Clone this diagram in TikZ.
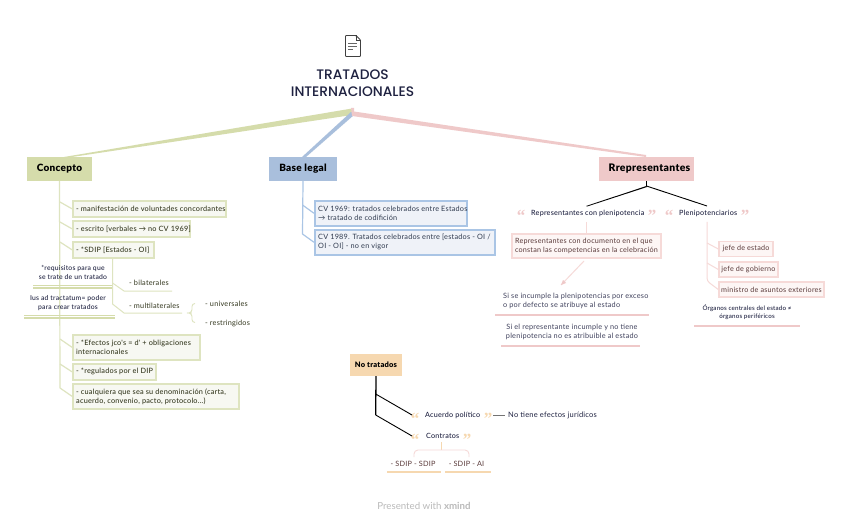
\documentclass[tikz,border=0pt]{standalone}
\usepackage{fontspec}
\setmainfont{Lato}
\newfontfamily\ttlf{Poppins Medium}
\newfontfamily\bodyf[LetterSpace=3]{Lato}
\newfontfamily\headf[LetterSpace=3]{Lato Medium}
\newfontfamily\quotf{Liberation Serif}
\usetikzlibrary{calc}
\definecolor{ink}{HTML}{1E2140}
\definecolor{oliveM}{HTML}{D5DCAB}
\definecolor{oliveL}{HTML}{DEE4C0}
\definecolor{oliveF}{HTML}{F7F8F2}
\definecolor{oliveT}{HTML}{34381F}
\definecolor{blueM}{HTML}{A9BFDC}
\definecolor{blueL}{HTML}{AAC5E5}
\definecolor{blueF}{HTML}{EFF2F8}
\definecolor{blueT}{HTML}{2F3A4E}
\definecolor{pinkM}{HTML}{EFC9C9}
\definecolor{pinkL}{HTML}{F6DAD8}
\definecolor{pinkF}{HTML}{FDF6F5}
\definecolor{pinkT}{HTML}{5A3A3A}
\definecolor{orangeM}{HTML}{F6D8B0}
\tikzset{
 x=1pt,y=-1pt,
 hub/.style={font=\headf\bfseries\fontsize{10}{12}\selectfont,text=black,inner sep=0pt,anchor=center},
 hubbox/.style={fill=#1,inner sep=0pt,path picture={
   \foreach \k in {-60,-48,...,100}
     \draw[white,opacity=.35,line width=.5pt] ([xshift=\k pt]path picture bounding box.south) -- ++(24,24);
 }},
 leaf/.style={draw=#1L,line width=1.6pt,fill=#1F,inner sep=0pt,anchor=north west},
 plain/.style={inner sep=0pt,font=\bodyf\fontsize{7.3}{9}\selectfont,text=ink},
 tiny/.style={inner sep=0pt,font=\headf\fontsize{6.8}{9}\selectfont,text=ink,align=center},
 quot/.style={inner sep=0pt,anchor=base,font=\quotf\bfseries\fontsize{17}{17}\selectfont},
 pleaf/.style={draw=pinkL,line width=1.4pt,fill=pinkF,minimum height=15pt,inner sep=0pt,text=pinkT,font=\bodyf\fontsize{7.2}{9}\selectfont},
 link/.style={line width=1pt,line join=round},
}
\newcommand{\leafbox}[8]{% name colour x y w h text font
 \node[leaf=#2,minimum width=#5pt,minimum height=#6pt] (#1) at (#3,#4) {};
 \node[inner sep=0pt,anchor=west,align=left,text=#2T,font=#8\fontsize{7.3}{9}\selectfont] (#1t) at ($(#1.west)+(4,0)$) {#7};
}
\begin{document}
\begin{tikzpicture}
\useasboundingbox (0,0) rectangle (848,529);
\fill[white] (0,0) rectangle (848,529);
% hub nodes
\node[hubbox=oliveM,minimum width=65pt,minimum height=24pt] (concepto) at (59.5,169) {};
\node[hub] (conceptot) at (concepto.center) {Concepto};
\node[hubbox=blueM,minimum width=68pt,minimum height=24pt] (base) at (303,169) {};
\node[hub] (baset) at (base.center) {Base legal};
\node[hubbox=pinkM,minimum width=95pt,minimum height=24pt] (repr) at (646.5,169) {};
\node[hub,font=\headf\bfseries\fontsize{10.4}{12}\selectfont] (reprt) at ($(repr.center)+(3,0)$) {Rrepresentantes};
\node[hubbox=orangeM,minimum width=52pt,minimum height=22pt] (notr) at (376,365) {};
\node[hub,font=\headf\bfseries\fontsize{7.5}{9}\selectfont] (notrt) at (notr.center) {No tratados};
% root
\node[inner sep=0pt,align=center,font=\ttlf\fontsize{13.8}{17}\selectfont,text=ink] (root) at (352.5,83) {TRATADOS\\INTERNACIONALES};
\coordinate (hubc) at (353,113);
% icon
\draw[line width=.9pt,draw=black!75,rounded corners=.8pt,line join=round] (345.5,35.5) -- (356,35.5) -- (360.5,40) -- (360.5,56.5) -- (345.5,56.5) -- cycle;
\draw[line width=.6pt,draw=black!75] (356,35.5) -- (356,40) -- (360.5,40);
\draw[line width=.7pt,draw=black!60] (348,43.5) -- (357,43.5) (348,46.5) -- (357,46.5) (348,49.5) -- (353,49.5);
% tapered branches
\fill[oliveM] (352,108.5) -- (352,115) -- (72,157) -- (64,157) -- cycle;
\fill[blueM] (351,112) -- (354,115) -- (306,157) -- (302,157) -- cycle;
\fill[pinkM] (351,108) -- (354,108) -- (354,111.5) -- (646,155) -- (646,157) -- (352,116) -- cycle;
% concepto leaves
\leafbox{l1}{olive}{72}{200}{153}{16}{- manifestación de voluntades concordantes}{\headf}
\leafbox{l2}{olive}{72}{220}{117}{16}{- escrito [verbales → no CV 1969]}{\headf}
\leafbox{l3}{olive}{72}{241}{81}{16}{- *SDIP [Estados - OI]}{\headf}
\leafbox{l4}{olive}{72}{334}{127}{25}{- *Efectos jco's = d' + obligaciones\\internacionales}{\headf}
\leafbox{l5}{olive}{72}{363}{83}{16}{- *regulados por el DIP}{\headf}
\leafbox{l6}{olive}{72}{383}{166}{25}{- cualquiera que sea su denominación (carta,\\acuerdo, convenio, pacto, protocolo...)}{\headf}
\draw[oliveL,link,line width=1.2pt] (concepto.south) -- (60,388) -- (l6.west);
\draw[oliveL,link,line width=1.2pt] (60,202) -- (l1.west);
\draw[oliveL,link,line width=1.2pt] (60,222) -- (l2.west);
\draw[oliveL,link,line width=1.2pt] (60,242) -- (l3.west);
\draw[oliveL,link,line width=1.2pt] (60,339) -- (l4.west);
\draw[oliveL,link,line width=1.2pt] (60,364) -- (l5.west);
% requisitos
\node[tiny] (req) at (73,272.5) {*requisitos para que\\se trate de un tratado};
\draw[oliveM,line width=1.4pt] (33,285.2) -- (113,285.2) (33,287.8) -- (113,287.8);
\node[tiny] (ius) at (68,303) {Ius ad tractatum= poder\\para crear tratados};
\draw[oliveM,line width=1.4pt] (24,315.3) -- (115,315.3) (24,317.9) -- (115,317.9);
% bilaterales
\node[plain,anchor=west,text=oliveT] (bil) at (129,283) {- bilaterales};
\node[plain,anchor=west,text=oliveT] (mul) at (129,305.5) {- multilaterales};
\node[plain,anchor=west,text=oliveT] (uni) at (205,303.5) {- universales};
\node[plain,anchor=west,text=oliveT] (res) at (205,323) {- restringidos};
\draw[oliveL,link] (l3.south -| 112.5,0) -- (112.5,304) -- (124,313) -- (182,313);
\draw[oliveL,link] (112.5,283) -- (124,291) -- (172,291);
\draw[oliveL,line width=.9pt,rounded corners=3pt] (195,303.5) -- (192,303.5) -- (192,312.5) -- (188.5,313) -- (192,313.5) -- (192,322.5) -- (195,322.5);
% base leaves
\leafbox{b1}{blue}{314}{200}{152}{25}{CV 1969: tratados celebrados entre Estados\\→ tratado de codifición}{\bodyf}
\leafbox{b2}{blue}{314}{229}{180}{25}{CV 1989. Tratados celebrados entre [estados - OI /\\OI - OI] - no en vigor}{\bodyf}
\draw[blueL,link,line width=1.2pt] (base.south) -- (302.5,234) -- (b2.west);
\draw[blueL,link,line width=1.2pt] (302.5,205) -- (b1.west);
% representantes
\fill[black] (646,181) rectangle (647,186);
\coordinate (rj) at (646.5,186);
\node[plain,anchor=west,font=\headf\fontsize{7.2}{9}\selectfont] (q1) at (531,213.5) {Representantes con plenipotencia};
\node[plain,anchor=west,font=\headf\fontsize{7.2}{9}\selectfont] (q2) at (679,213.5) {Plenipotenciarios};
\fill[black] (rj) -- (647,187) -- (587,206.5) -- (586,206) -- cycle;
\draw[black,line width=.9pt] (rj) -- (707,206);
\foreach \n/\x/\s in {qa/521/“,qb/652/”,qc/669/“,qd/745/”}
  \node[quot,text=pinkM] (\n) at (\x,222) {\s};
\node[draw=pinkL,line width=1.4pt,fill=pinkF,minimum width=149pt,minimum height=24pt,inner sep=0pt] (r1) at (586.5,246) {};
\node[inner sep=0pt,align=left,text=pinkT,font=\bodyf\fontsize{7.2}{9}\selectfont,anchor=west] (r1t) at ($(r1.west)+(3.5,0)$) {Representantes con documento en el que\\constan las competencias en la celebración};
\draw[pinkL,link] (586,222) -- (r1.north -| 586,0);
\coordinate (ar) at (561,285);
\draw[pinkL,line width=1pt] (584,261) -- (ar);
\fill[pinkM] (ar) -- (566,283) -- (563,280) -- cycle;
\node[plain,anchor=west,align=left,text=ink!85] (s1) at (503,300.5) {Si se incumple la plenipotencias por exceso\\o por defecto se atribuye al estado};
\draw[pinkM,line width=1.2pt] (495,315) -- (649,315);
\node[plain,align=center,text=ink!85] (s2) at (572,331.5) {Si el representante incumple y no tiene\\plenipotencia no es atribuible al estado};
\draw[pinkM,line width=1.2pt] (501,346) -- (640,346);
% plenipotenciarios
\node[pleaf,minimum width=54pt] (p1) at (746,249) {jefe de estado};
\node[pleaf,minimum width=59pt] (p2) at (748.5,269.5) {jefe de gobierno};
\node[pleaf,minimum width=105pt] (p3) at (771.5,289.5) {ministro de asuntos exteriores};
\draw[pinkL,link,rounded corners=3pt] (707,222) -- (707,281) -- (p3.west);
\draw[pinkL,link,rounded corners=3pt] (707,243) -- (p1.west);
\draw[pinkL,link,rounded corners=3pt] (707,263) -- (p2.west);
\node[tiny,font=\headf\fontsize{6.2}{8}\selectfont] (org) at (747,312) {Órganos centrales del estado ≠\\órganos periféricos};
\draw[pinkM,line width=1.2pt] (694,326) -- (800,326);
% no tratados
\node[plain,anchor=west,font=\headf\fontsize{7.2}{9}\selectfont] (acu) at (425,415) {Acuerdo político};
\node[plain,anchor=west,font=\headf\fontsize{7.2}{9}\selectfont] (con) at (426,436) {Contratos};
\node[plain,anchor=west,font=\bodyf\fontsize{7.5}{9}\selectfont] (noef) at (508,415) {No tiene efectos jurídicos};
\foreach \n/\x/\y/\s in {qe/415/424/“,qf/488/424/”,qg/415/445/“,qh/467/445/”}
  \node[quot,text=orangeM] (\n) at (\x,\y) {\s};
\draw[black,line width=1.3pt] (notr.south) -- (375.7,415);
\draw[black,line width=.9pt] (375.7,394) -- (412,415);
\draw[black,line width=.9pt] (375.7,415) -- (412,436);
\draw[black!55,line width=.9pt,shorten >=3pt] (493,415) -- (noef.west);
\node[plain,text=pinkT] (sd1) at (413,464) {- SDIP - SDIP};
\node[plain,text=pinkT] (sd2) at (466.5,464) {- SDIP - AI};
\draw[orangeM,line width=.9pt] (441,442) -- (441,450);
\draw[pinkL,line width=.9pt,rounded corners=4pt] (414,457) -- (414,450) -- (469,450) -- (469,457);
\draw[orangeM,line width=1.2pt] (387,472) -- (441,472);
\draw[orangeM,line width=1.2pt] (445,472) -- (491,472);
% footer
\node[inner sep=0pt,text=black!27,font=\fontsize{9.7}{11}\selectfont] (foot) at (424,506) {Presented with \textbf{xmind}};
\end{tikzpicture}
\end{document}
